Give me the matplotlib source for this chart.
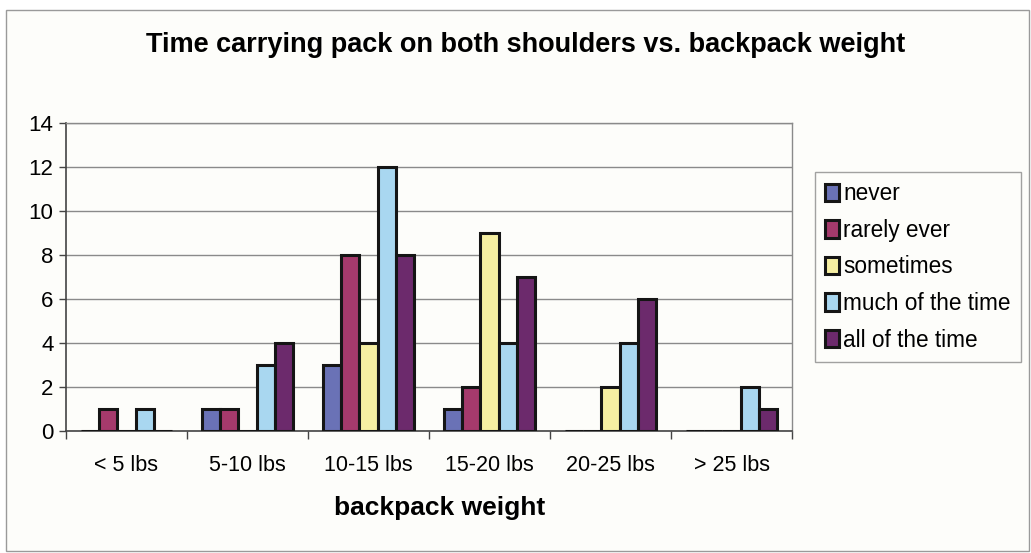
import numpy as np
import matplotlib
matplotlib.use("Agg")
import matplotlib.pyplot as plt
from matplotlib.patches import Rectangle

plt.rcParams['font.family'] = ['Liberation Sans', 'DejaVu Sans']

categories = ["< 5 lbs", "5-10 lbs", "10-15 lbs", "15-20 lbs", "20-25 lbs", "> 25 lbs"]
series_names = ["never", "rarely ever", "sometimes", "much of the time", "all of the time"]
never = [0, 1, 3, 1, 0, 0]
rarely_ever = [1, 1, 8, 2, 0, 0]
sometimes = [0, 0, 4, 9, 2, 0]
much_of_the_time = [1, 3, 12, 4, 4, 2]
all_of_the_time = [0, 4, 8, 7, 6, 1]
yticks = [0, 2, 4, 6, 8, 10, 12, 14]

series = [never, rarely_ever, sometimes, much_of_the_time, all_of_the_time]
colors = ["#6a72b6", "#a53a6c", "#f6efa2", "#a9d7f0", "#6c2a6c"]

W, H = 1031, 553
fig = plt.figure(figsize=(W / 100, H / 100), dpi=100)
fig.patch.set_facecolor("white")

# outer chart frame, kept behind the axes
fig.add_artist(Rectangle((6 / W, 1 - 551 / H), 1023 / W, 541 / H, transform=fig.transFigure,
                         fill=True, facecolor="#fdfdfa", edgecolor="#9a9a9a", linewidth=1.0,
                         zorder=-10))

left, right, top, bottom = 66, 792, 123, 431
ax = fig.add_axes([left / W, 1 - bottom / H, (right - left) / W, (bottom - top) / H])
ax.set_facecolor("#fdfdfa")

x = np.arange(len(categories))
bw = 0.152
for i, (vals, c, name) in enumerate(zip(series, colors, series_names)):
    ax.bar(x + (i - 2) * bw, vals, width=bw, color=c, edgecolor="#151515",
           linewidth=2.2, label=name, zorder=3)

ax.set_xlim(-0.5, len(categories) - 0.5)
ax.set_ylim(0, 14)
ax.set_yticks(yticks)
ax.set_yticklabels([str(v) for v in yticks], fontsize=16)
ax.set_xticks(x)
ax.set_xticklabels(categories, fontsize=15.5)
ax.tick_params(axis='x', length=0, pad=17)
ax.tick_params(axis='y', length=5, width=1, direction='out', pad=4, color="#444444")
ax.set_xticks(np.arange(len(categories) + 1) - 0.5, minor=True)
ax.tick_params(axis='x', which='minor', length=6, width=1, direction='out', color="#444444")
ax.grid(axis='y', color="#8a8a8a", linewidth=1.0, zorder=0)
for s in ["left", "bottom"]:
    ax.spines[s].set_color("#444444")
    ax.spines[s].set_linewidth(1.2)
for s in ["top", "right"]:
    ax.spines[s].set_color("#8a8a8a")
    ax.spines[s].set_linewidth(1.0)

ax.set_xlabel("backpack weight", fontsize=19, fontweight='bold')
ax.xaxis.set_label_coords((440 - left) / (right - left), -(508 - bottom) / (bottom - top))
ax.xaxis.label.set_verticalalignment('center')
fig.text(526 / W, 1 - 45 / H, "Time carrying pack on both shoulders vs. backpack weight",
         ha='center', va='center', fontsize=19.5, fontweight='bold')

leg = fig.legend(loc='upper left', bbox_to_anchor=(815 / W, 1 - 172 / H), fontsize=16.3,
                 frameon=True, fancybox=False, edgecolor="#8a8a8a", handlelength=0.6,
                 handleheight=0.8, handletextpad=0.2, labelspacing=0.6, borderpad=0.45,
                 borderaxespad=0)
leg.get_frame().set_linewidth(1.0)
leg.get_frame().set_facecolor("#fdfdfa")

fig.savefig("out.png", dpi=100)
